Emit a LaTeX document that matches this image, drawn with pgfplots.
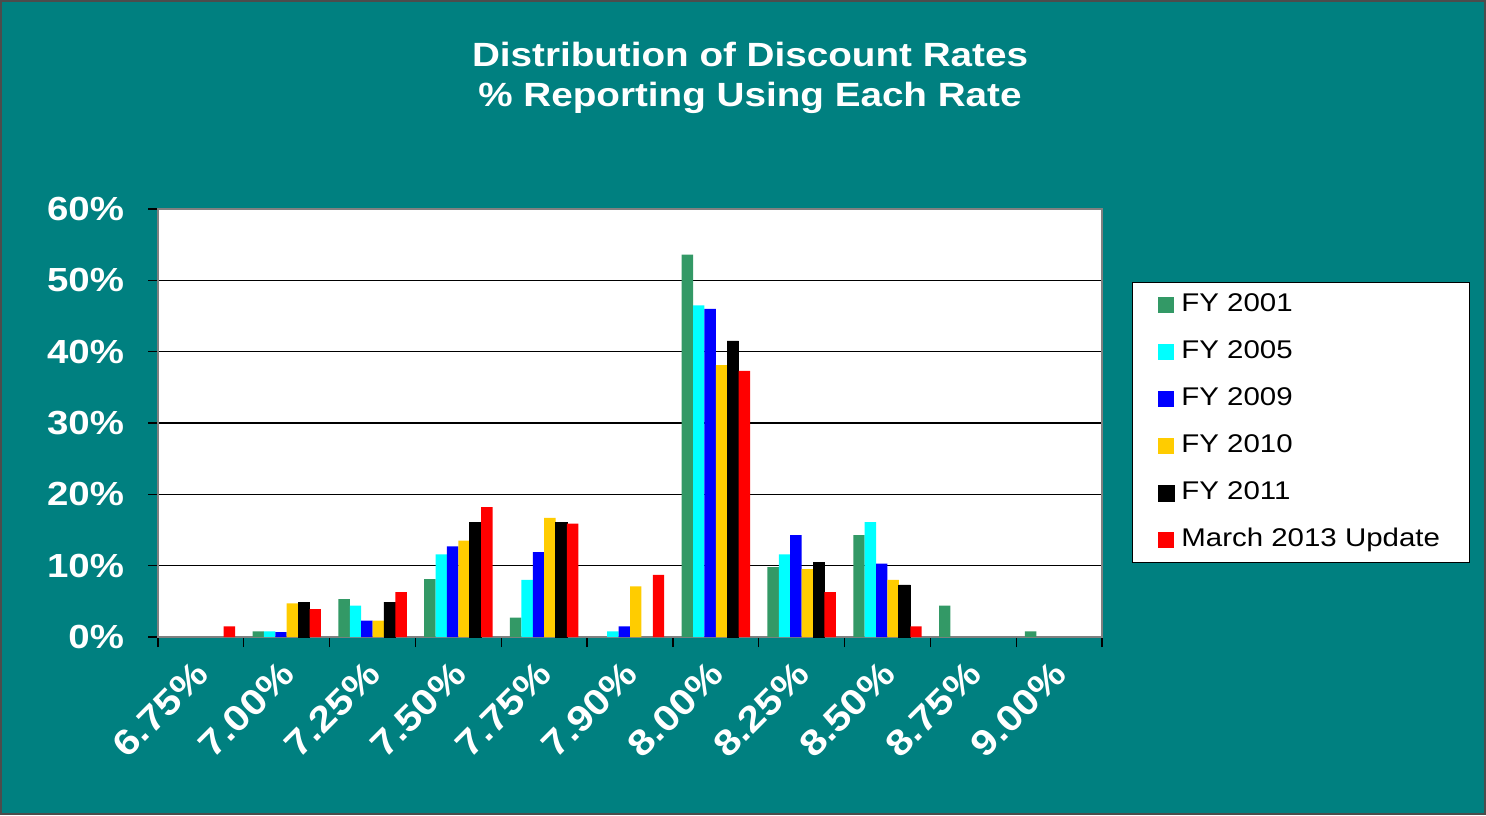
\documentclass[border=0pt]{standalone}
\usepackage{fontspec}
\setmainfont{Liberation Sans}[FakeStretch=1.15]
\usepackage{pgfplots}
\pgfplotsset{compat=1.18}
\definecolor{bg}{HTML}{008080}
\definecolor{sgreen}{HTML}{339966}
\definecolor{ycol}{HTML}{FFCC00}
\definecolor{ccol}{HTML}{00FFFF}
\definecolor{bcol}{HTML}{0000FF}
\definecolor{rcol}{HTML}{FF0000}
\begin{document}
\begin{tikzpicture}
\fill[bg] (0,0) rectangle (743pt,407.5pt);
\draw[black!70, line width=1pt] (0.5pt,0.5pt) rectangle (742.5pt,407pt);
\node[text=white, font=\fontsize{16.8}{20}\selectfont\bfseries, align=center] at (375pt,368.5pt) {Distribution of Discount Rates\\\% Reporting Using Each Rate};
\begin{axis}[at={(79pt,89pt)}, anchor=south west, scale only axis, width=472pt, height=214pt,
 ybar=0pt, bar width=5.7pt,
 xmin=-0.5, xmax=10.5, ymin=0, ymax=60,
 xtick={0,...,10},
 xticklabels={6.75\%,7.00\%,7.25\%,7.50\%,7.75\%,7.90\%,8.00\%,8.25\%,8.50\%,8.75\%,9.00\%},
 major x tick style={draw=none},
 minor xtick={-0.5,0.5,...,10.5},
 axis background/.style={fill=white},
 ymajorgrids, grid style={black, line width=0.6pt},
 axis line style={black!50, line width=1pt},
 tick style={black, line width=0.6pt},
 tick align=outside, major tick length=5pt, minor tick length=5pt,
 tick pos=left,
 ytick={0,10,...,60}, yticklabels={0\%,10\%,20\%,30\%,40\%,50\%,60\%},
 yticklabel style={text=white, font=\fontsize{16.7}{19}\selectfont\bfseries, xshift=-8.5pt},
 xticklabel style={text=white, font=\fontsize{18}{20}\selectfont\bfseries, xshift=-4pt, yshift=-1pt, rotate=45, anchor=north east},
 legend style={at={(1.032,0.829)}, anchor=north west, draw=black, fill=white,
   font=\fontsize{12.8}{15}\selectfont, inner xsep=12.5pt, inner ysep=3pt,
   row sep=7pt, column sep=1.5pt, nodes={text height=9.5pt, text depth=3pt, inner sep=2pt}},
 legend cell align=left,
 legend image code/.code={\fill[#1] (0pt,-4pt) rectangle (8pt,4pt);},
]
\addplot[fill=sgreen, draw=none] coordinates {(1,0.8) (2,5.3) (3,8.1) (4,2.7) (6,53.6) (7,9.8) (8,14.3) (9,4.4) (10,0.8)};
\addplot[fill=ccol, draw=none] coordinates {(1,0.8) (2,4.4) (3,11.6) (4,8.0) (5,0.8) (6,46.5) (7,11.6) (8,16.1)};
\addplot[fill=bcol, draw=none] coordinates {(1,0.7) (2,2.3) (3,12.7) (4,11.9) (5,1.5) (6,46.0) (7,14.3) (8,10.3)};
\addplot[fill=ycol, draw=none] coordinates {(1,4.7) (2,2.3) (3,13.5) (4,16.7) (5,7.1) (6,38.1) (7,9.5) (8,8.0)};
\addplot[fill=black, draw=black] coordinates {(1,4.9) (2,4.9) (3,16.1) (4,16.1) (6,41.5) (7,10.5) (8,7.3)};
\addplot[fill=rcol, draw=none] coordinates {(0,1.5) (1,3.9) (2,6.3) (3,18.2) (4,15.9) (5,8.7) (6,37.3) (7,6.3) (8,1.5)};
\legend{FY 2001,FY 2005,FY 2009,FY 2010,FY 2011,March 2013 Update}
\end{axis}
\end{tikzpicture}
\end{document}
